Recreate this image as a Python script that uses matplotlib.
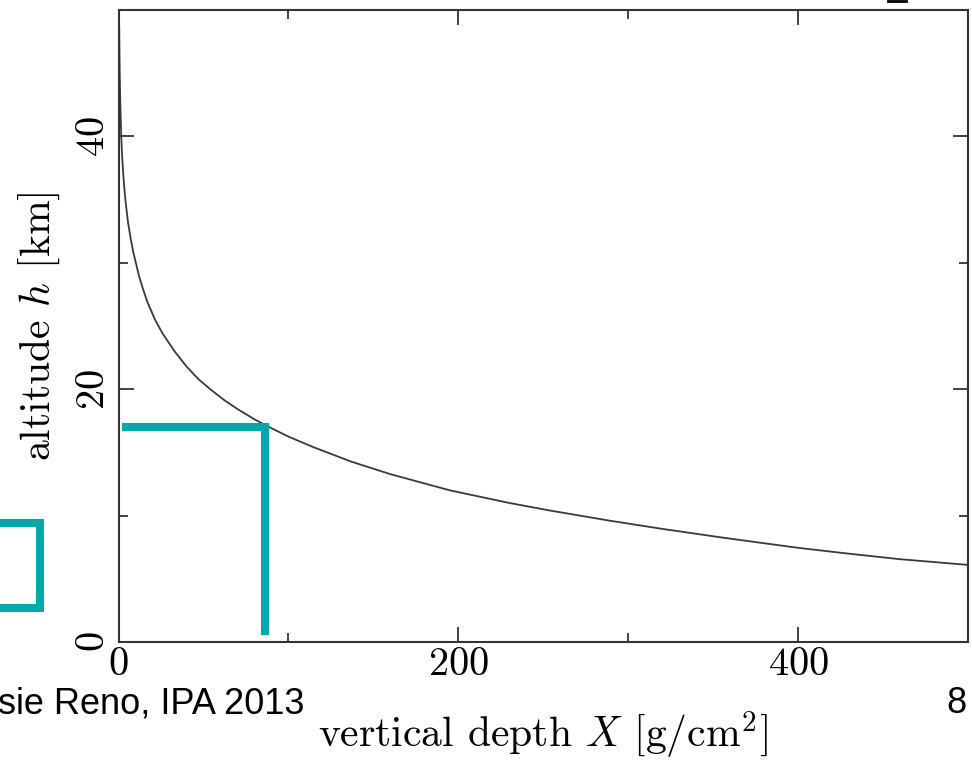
import matplotlib
matplotlib.use("Agg")
import matplotlib.pyplot as plt
from matplotlib.patches import Rectangle
from matplotlib.lines import Line2D
from matplotlib.ticker import MultipleLocator

# altitude vs. vertical depth
depth = [0.39, 0.7, 1.0, 1.6, 2.2, 2.8, 3.5, 4.2, 5.6, 7.2, 8.6, 10.2, 12,
         14, 17, 21.5, 26, 33, 40, 47, 54, 62, 70, 80, 88, 100, 115, 137,
         160, 195, 230, 254, 289, 320, 356, 400, 429, 460, 500]
altitude = [48.7, 45.1, 42.9, 40.0, 38.3, 37.0, 35.8, 34.8, 33.2, 31.9, 30.9,
            30.0, 29.0, 28.1, 26.9, 25.5, 24.4, 23.0, 21.8, 20.8, 20.0, 19.16,
            18.43, 17.62, 17.05, 16.25, 15.4, 14.27, 13.28, 12.0, 11.0, 10.4,
            9.6, 8.95, 8.25, 7.45, 7.0, 6.55, 6.1]

# marked point (teal guide lines)
mark_x = 86.5
mark_h = 17.0

x_ticks = [0, 200, 400]
y_ticks = [0, 20, 40]
teal = "#00a9a9"

plt.rcParams["font.family"] = "cmr10"
plt.rcParams["mathtext.fontset"] = "cm"
plt.rcParams["axes.formatter.use_mathtext"] = True

fig = plt.figure(figsize=(9.72, 7.61), dpi=100)
ax = fig.add_axes([118.5 / 972, 1 - 642 / 761, 849.5 / 972, 632 / 761])

ax.plot(depth, altitude, color="#3a3a3a", lw=1.3)

# teal guide lines
ax.plot([1.8, mark_x], [mark_h, mark_h], color=teal, lw=5.8,
        solid_capstyle="butt", clip_on=False)
ax.plot([mark_x, mark_x], [mark_h + 0.3, 0.55], color=teal, lw=5.8,
        solid_capstyle="butt")

ax.set_xlim(0, 500)
ax.set_ylim(0, 50)
ax.set_xticks(x_ticks)
ax.set_yticks(y_ticks)
ax.xaxis.set_minor_locator(MultipleLocator(100))
ax.yaxis.set_minor_locator(MultipleLocator(10))
ax.tick_params(which="both", direction="in", top=True, right=True,
               labelsize=29, width=1.2, color="#222222")
ax.tick_params(which="major", length=11)
ax.tick_params(which="minor", length=6.5)
ax.tick_params(axis="x", pad=4)
ax.tick_params(axis="y", pad=5)
for lab in ax.get_yticklabels():
    lab.set_rotation(90)
    lab.set_va("center")
for s in ax.spines.values():
    s.set_linewidth(1.5)
    s.set_color("#333333")

ax.set_xlabel(r"vertical depth $X$ [g/cm$^2$]", fontsize=30, labelpad=19)
ax.set_ylabel(r"altitude $h$ [km]", fontsize=30, labelpad=10)

# slide decorations
fig.add_artist(Rectangle((-0.05, 1 - 607.5 / 761), 0.05 + 40 / 972, 84.5 / 761,
                         transform=fig.transFigure, fill=False,
                         edgecolor=teal, lw=5.8))
fig.add_artist(Line2D([888 / 972, 906 / 972], [1 - 1 / 761, 1 - 1 / 761],
                      transform=fig.transFigure, color="black", lw=2))
fig.text(-0.002, 1 - 713 / 761, "sie Reno, IPA 2013", fontsize=26,
         family="Liberation Sans", ha="left", va="baseline")
fig.text(966 / 972, 1 - 713 / 761, "8", fontsize=26,
         family="Liberation Sans", ha="right", va="baseline")

fig.savefig("out.png", dpi=100, facecolor="white")
